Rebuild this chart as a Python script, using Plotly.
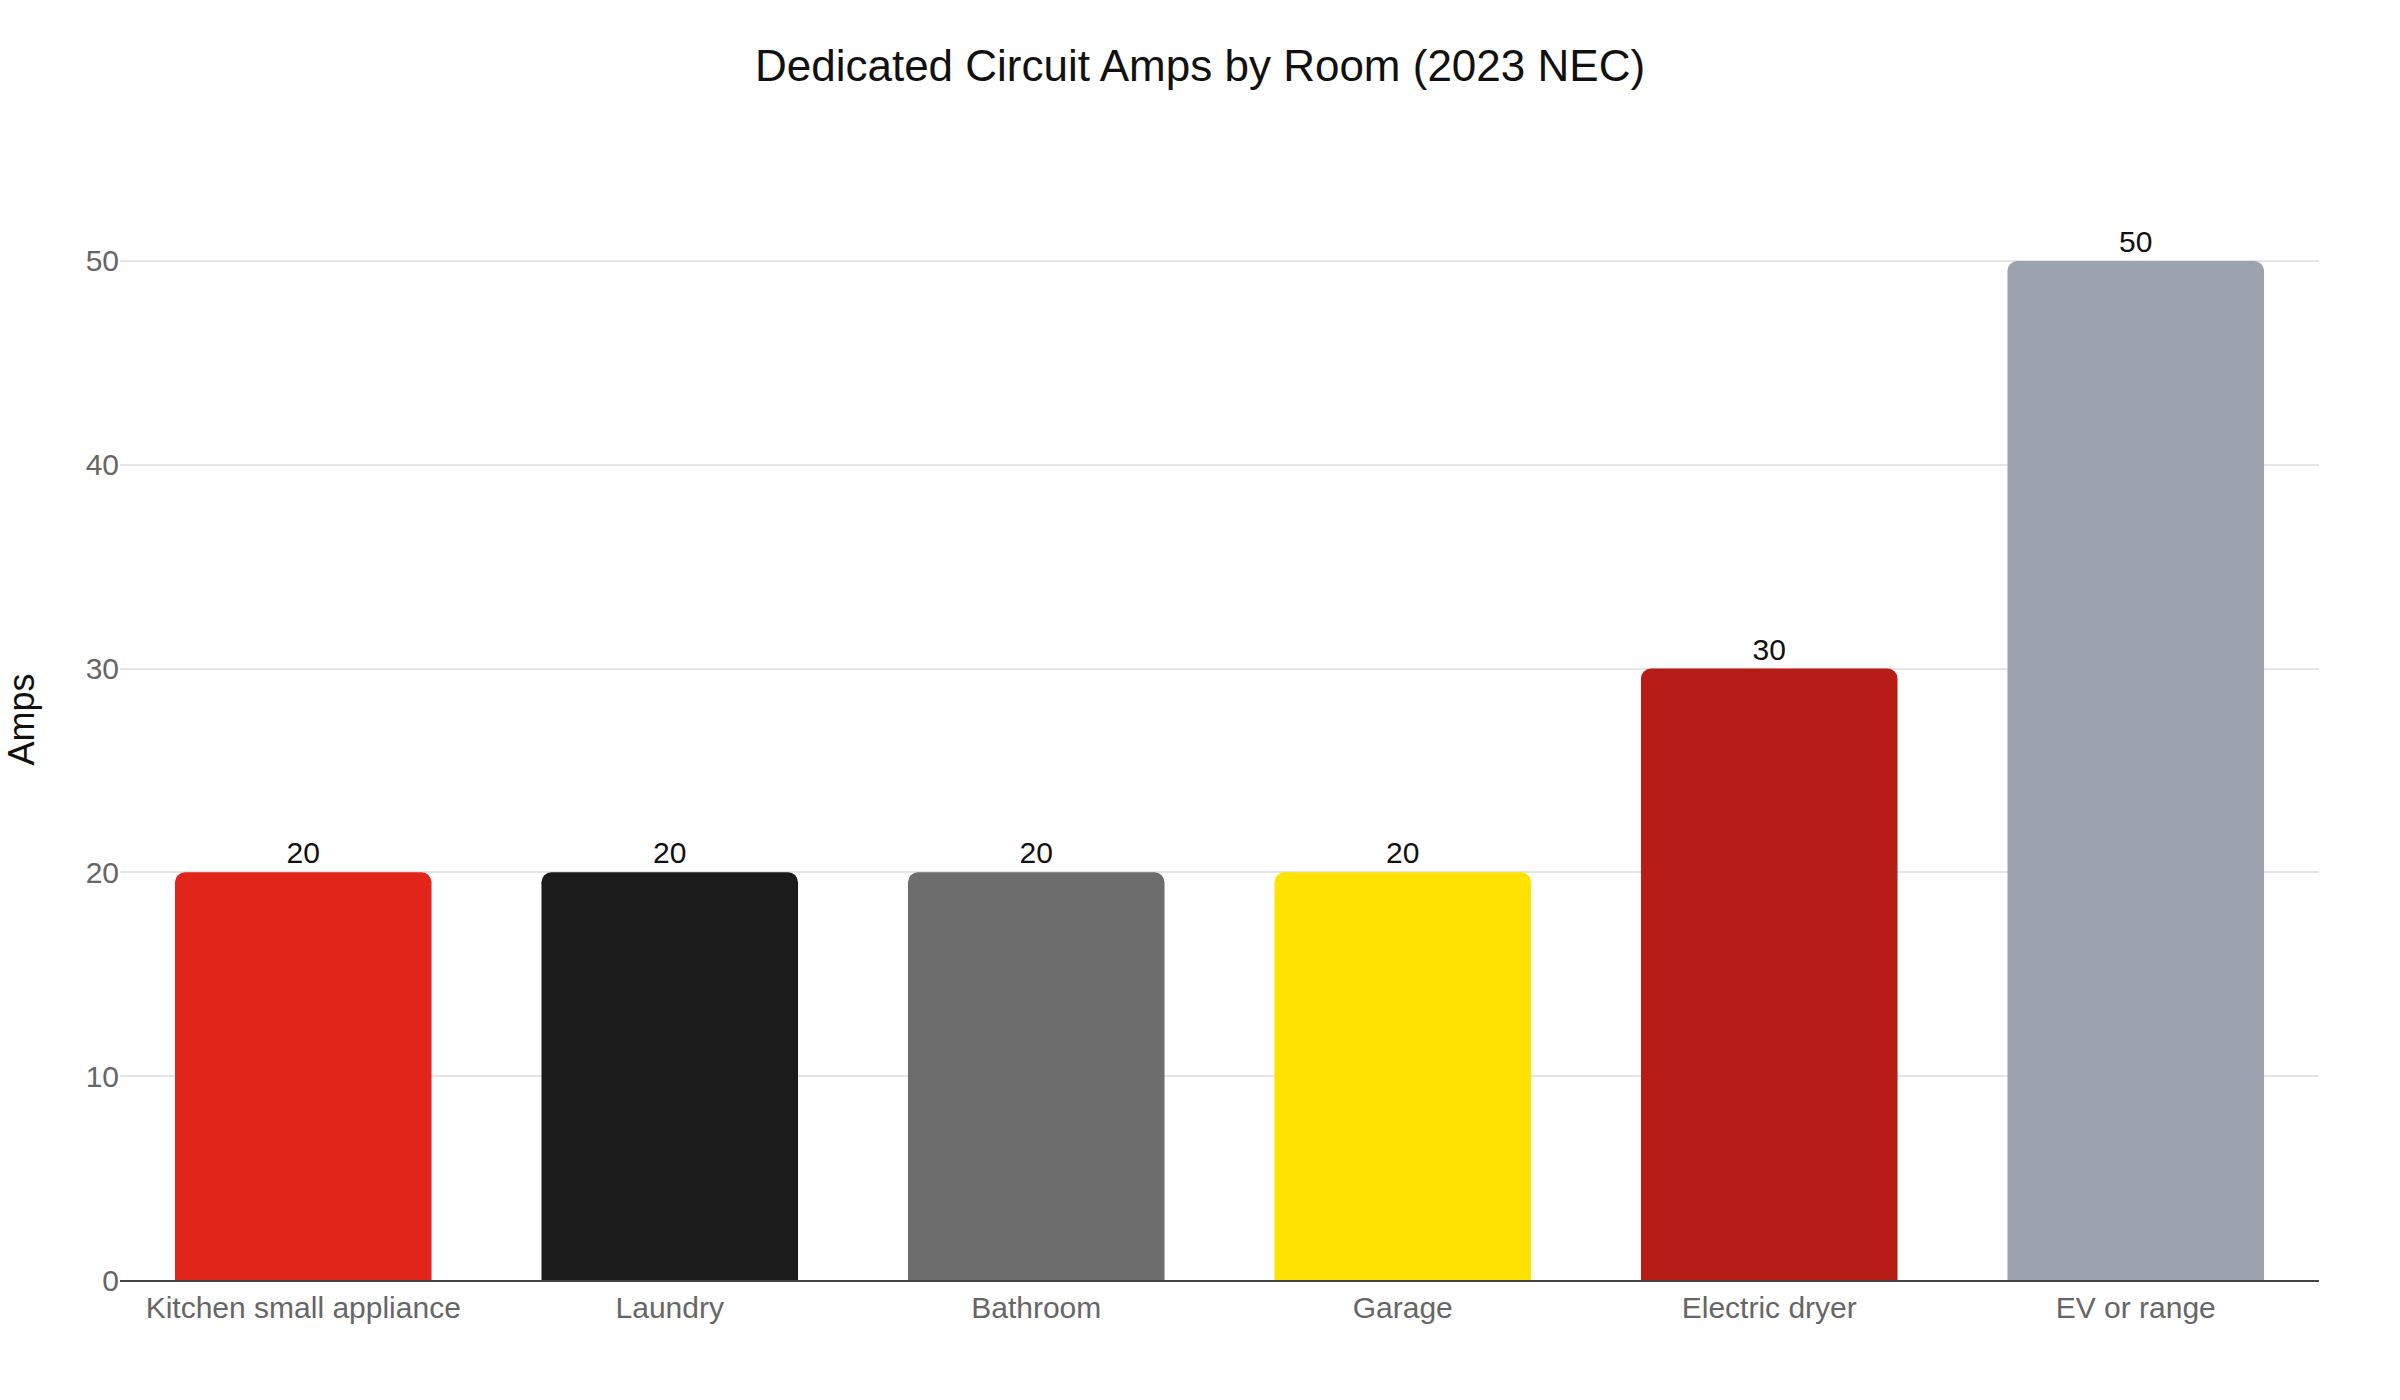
import plotly.graph_objects as go

categories = ["Kitchen small appliance", "Laundry", "Bathroom", "Garage", "Electric dryer", "EV or range"]
amps = [20, 20, 20, 20, 30, 50]
colors = ["#E1251B", "#1B1B1B", "#6D6D6D", "#FEE300", "#B71C17", "#9DA3AE"]
y_ticks = [0, 10, 20, 30, 40, 50]

FONT = "Liberation Sans, Arial, Helvetica, sans-serif"

fig = go.Figure(
    go.Bar(
        x=categories,
        y=amps,
        marker=dict(color=colors, cornerradius=10, line=dict(width=0)),
        text=[str(v) for v in amps],
        textposition="outside",
        textfont=dict(size=30, color="#111111", family=FONT),
        cliponaxis=False,
        hoverinfo="x+y",
    )
)

fig.update_layout(
    width=2400,
    height=1400,
    margin=dict(l=120, r=81, t=159, b=120, autoexpand=False),
    paper_bgcolor="white",
    plot_bgcolor="white",
    bargap=0.3,
    showlegend=False,
    title=dict(
        text="Dedicated Circuit Amps by Room (2023 NEC)",
        x=0.5,
        xanchor="center",
        y=1 - 66 / 1400,
        yanchor="middle",
        font=dict(size=44, color="#111111", family=FONT),
    ),
    font=dict(family=FONT),
)

fig.update_xaxes(
    showgrid=False,
    showline=True,
    linecolor="#444444",
    linewidth=2,
    ticks="",
    tickfont=dict(size=30, color="#666666", family=FONT),
)

fig.update_yaxes(
    range=[0, 55],
    tickvals=y_ticks,
    showgrid=True,
    gridcolor="#E5E5E5",
    gridwidth=2,
    zeroline=False,
    showline=False,
    ticks="",
    tickfont=dict(size=30, color="#666666", family=FONT),
    title=dict(text="Amps", font=dict(size=36, color="#111111", family=FONT), standoff=40),
)

fig.write_html("out.html")
